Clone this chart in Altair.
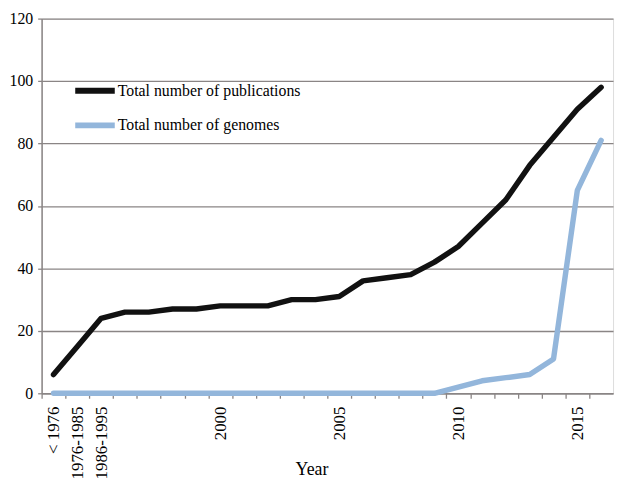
import altair as alt
import pandas as pd

categories = ["< 1976", "1976-1985", "1986-1995"] + [str(y) for y in range(1996, 2017)]
publications = [6, 15, 24, 26, 26, 27, 27, 28, 28, 28, 30, 30, 31, 36, 37, 38, 42, 47, 54.5, 62, 73, 82, 91, 98]
genomes = [0, 0, 0, 0, 0, 0, 0, 0, 0, 0, 0, 0, 0, 0, 0, 0, 0, 2, 4, 5, 6, 11, 65, 81]
series_names = ["Total number of publications", "Total number of genomes"]
shown_labels = ["< 1976", "1976-1985", "1986-1995", "2000", "2005", "2010", "2015"]
y_ticks = [0, 20, 40, 60, 80, 100, 120]

rows = []
for i, c in enumerate(categories):
    rows.append({"cat": c, "order": i, "series": series_names[0], "value": publications[i]})
    rows.append({"cat": c, "order": i, "series": series_names[1], "value": genomes[i]})
df = pd.DataFrame(rows)

W, H = 578, 379
step = W / len(categories)
FONT = "'Liberation Serif', 'Times New Roman', Times, serif"
GRID = "#8a8585"

label_test = " || ".join([f"datum.value == '{l}'" for l in shown_labels])

chart = alt.Chart(df).mark_line(strokeWidth=5.5, strokeJoin="round", strokeCap="round").encode(
    x=alt.X("cat:O", sort=categories, title="Year",
            scale=alt.Scale(type="point", padding=0.5),
            axis=alt.Axis(labelAngle=270, labelFont=FONT, labelFontSize=17, labelColor="#000",
                          labelExpr=f"({label_test}) ? datum.value : ''",
                          tickOffset=-step / 2, labelOffset=step / 2, tickSize=5, tickColor=GRID,
                          tickWidth=1.3, domainColor=GRID, domainWidth=1.5, labelPadding=8,
                          titleFont=FONT, titleFontSize=18, titleFontWeight="normal", titleColor="#000",
                          titleX=273, titleY=68, grid=False, labelOverlap=False, labelBound=False)),
    y=alt.Y("value:Q", title=None,
            scale=alt.Scale(domain=[0, 120], nice=False),
            axis=alt.Axis(values=y_ticks, labelFont=FONT, labelFontSize=16, labelColor="#000",
                          tickSize=4, tickColor=GRID, tickWidth=1.3, domainColor=GRID, domainWidth=1.5,
                          gridColor=GRID, gridWidth=1.3, gridOpacity=1, labelPadding=5)),
    color=alt.Color("series:N", sort=series_names,
                    scale=alt.Scale(domain=series_names, range=["#111111", "#93b6db"]),
                    legend=alt.Legend(title=None, orient="none", legendX=31, legendY=50,
                                      symbolType="stroke", symbolSize=1600, symbolStrokeWidth=6,
                                      labelFont=FONT, labelFontSize=16, labelColor="#000",
                                      labelLimit=0, labelOffset=0, rowPadding=-8, padding=0)),
    order="order:Q",
).properties(
    width=W, height=H,
    autosize=alt.AutoSizeParams(type="none"),
    padding={"left": 34, "top": 8, "right": 4, "bottom": 86},
).configure_view(stroke=None).configure(background="white")

chart.save("out.html", embed_options={"renderer": "svg", "actions": False})
